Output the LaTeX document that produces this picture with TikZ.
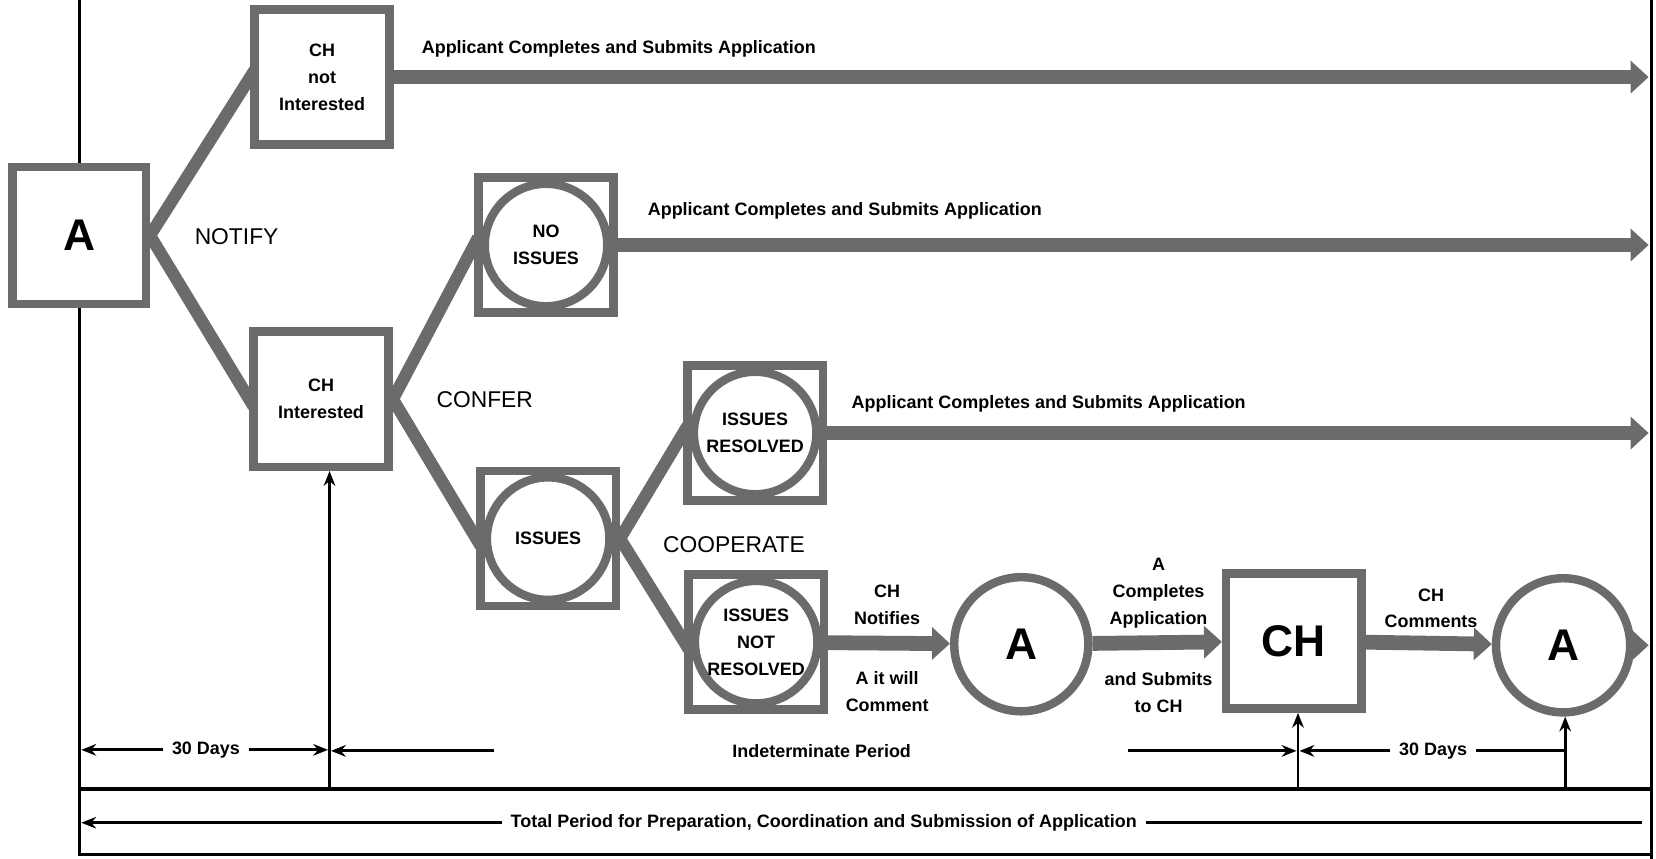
\documentclass[tikz,border=0pt]{standalone}
\usepackage{fontspec}
\setmainfont{Liberation Sans}
\usepackage{tikz}
\usetikzlibrary
  {
    arrows.meta,              % sized arrow heads
    backgrounds,              % put the branches behind the boxes
  }

\colorlet{ink}{black!58}
\newcommand\smallbold{\bfseries\fontsize{8.5}{12.75}\selectfont}
\newcommand\bigbold{\bfseries\fontsize{21}{25}\selectfont}
\newcommand\phasetext{\fontsize{10.8}{13}\selectfont}

\begin{document}
\begin{tikzpicture}
    [
      x=0.5pt,
      y=-0.5pt,
      stage/.style=
        {
          rectangle,
          draw=ink,
          fill=white,
          line width=4pt,
          minimum size=64pt,
          inner sep=0pt,
          align=center,
          font=\smallbold,
        },
      issue/.style=
        {
          stage,
          path picture=
            {
              \draw[ink, line width=4pt]
                (path picture bounding box.center) circle (29pt);
            },
        },
      party/.style=
        {
          circle,
          draw=ink,
          fill=white,
          line width=4pt,
          minimum size=63.5pt,
          inner sep=0pt,
          font=\bigbold,
        },
      link/.style=
        {
          draw=ink,
          line width=5.8pt,
          shorten <=-4pt,
          shorten >=-4pt,
        },
      flow/.style=
        {
          draw=ink,
          line width=7pt,
          -{Triangle[length=8.5pt,width=15pt]},
        },
      note/.style=
        {
          inner sep=0pt,
          align=center,
          font=\smallbold,
        },
      phase/.style=
        {
          inner sep=0pt,
          font=\phasetext,
        },
      span/.style=
        {
          inner xsep=4pt,
          inner ysep=0pt,
          font=\smallbold,
        },
      rule/.style={line width=1.5pt},
      dim/.style=
        {
          line width=1.4pt,
          -{Stealth[length=7pt,width=5.5pt]},
        },
    ]
    \useasboundingbox (0,0) rectangle (1568,813);

    % the boxes
    \node[stage, minimum width=63pt, minimum height=65pt, font=\bigbold]
                        (appl)     at (  75,223) {A};
    \node[stage]        (chno)     at ( 305, 73) {CH\\not\\Interested};
    \node[stage]        (chyes)    at ( 304,378) {CH\\Interested};
    \node[issue]        (noiss)    at ( 517,232) {NO\\ISSUES};
    \node[issue]        (iss)      at ( 519,510) {ISSUES};
    \node[issue]        (resolved) at ( 715,410) {ISSUES\\RESOLVED};
    \node[issue]        (open)     at ( 716,608) {ISSUES\\NOT\\RESOLVED};
    \node[party]        (aone)     at ( 967,610) {A};
    \node[stage, font=\bigbold]
                        (chbox)    at (1225,607) {CH};
    \node[party]        (atwo)     at (1480,611) {A};

    % the three steps
    \node[phase] (notify) at (224,224) {NOTIFY};
    \node[phase] (confer) at (459,378) {CONFER};
    \node[phase] (coop)   at (695,516) {COOPERATE};

    % words along the arrows
    \node[note, anchor=west] (sub1) at (399, 46)
      {Applicant Completes and Submits Application};
    \node[note, anchor=west] (sub2) at (613,200)
      {Applicant Completes and Submits Application};
    \node[note, anchor=west] (sub3) at (806,382)
      {Applicant Completes and Submits Application};
    \node[note] (notifies)  at ( 840,573) {CH\\Notifies};
    \node[note] (willcom)   at ( 840,655) {A it will\\Comment};
    \node[note] (completes) at (1097,562) {A\\Completes\\Application};
    \node[note] (submits)   at (1097,656) {and Submits\\to CH};
    \node[note] (comments)  at (1355,576) {CH\\Comments};

    % time scale
    \coordinate (rim)   at (1561,  0);
    \coordinate (foot1) at ( 312,747);
    \coordinate (foot2) at (1229,747);
    \coordinate (foot3) at (1482,747);
    \coordinate (edge1) at (  77,710);
    \coordinate (gap1)  at ( 468,711);
    \coordinate (gap2)  at (1068,711);
    \coordinate (edge2) at (  77,779);
    \coordinate (edge3) at (1555,779);

    \node[span] (days1) at ( 195,710) {30 Days};
    \node[span] (indet) at ( 778,711) {Indeterminate Period};
    \node[span] (days2) at (1357,711) {30 Days};
    \node[span] (total) at ( 780,779)
      {Total Period for Preparation, Coordination and Submission of Application};

    \begin{scope}[on background layer]
      % frame
      \draw[rule] (75,0) -- (75,809) -- (1564,809);
      \draw[rule] (1564,0) -- (1564,813);
      \draw[rule] (75,747) -- (1564,747);
      % branches
      \draw[link] (appl.east)  -- (chno.west);
      \draw[link] (appl.east)  -- (chyes.west);
      \draw[link] (chyes.east) -- (noiss.west);
      \draw[link] (chyes.east) -- (iss.west);
      \draw[link] (iss.east)   -- (resolved.west);
      \draw[link] (iss.east)   -- (open.west);
    \end{scope}

    % main arrows
    \draw[flow] (chno)     -- (chno -| rim);
    \draw[flow] (noiss)    -- (noiss -| rim);
    \draw[flow] (resolved) -- (resolved -| rim);
    \draw[flow] (open)     -- (aone);
    \draw[flow] (aone)     -- (chbox);
    \draw[flow] (chbox)    -- (atwo);
    \draw[flow] (atwo)     -- (atwo -| rim);

    % periods
    \draw[dim] (foot1) -- (foot1 |- chyes.south);
    \draw[dim] (foot2) -- (foot2 |- chbox.south);
    \draw[dim] (foot3) -- (foot3 |- atwo.south);
    \draw[dim] (days1) -- (edge1);
    \draw[dim, shorten >=0.7pt] (days1) -- (days1 -| foot1);
    \draw[dim, shorten >=0.7pt] (gap1)  -- (gap1 -| foot1);
    \draw[dim, shorten >=0.7pt] (gap2)  -- (gap2 -| foot2);
    \draw[dim, shorten >=0.7pt] (days2) -- (days2 -| foot2);
    \draw[rule] (days2) -- (days2 -| foot3);
    \draw[dim]  (total) -- (edge2);
    \draw[rule] (total) -- (edge3);
\end{tikzpicture}
\end{document}
